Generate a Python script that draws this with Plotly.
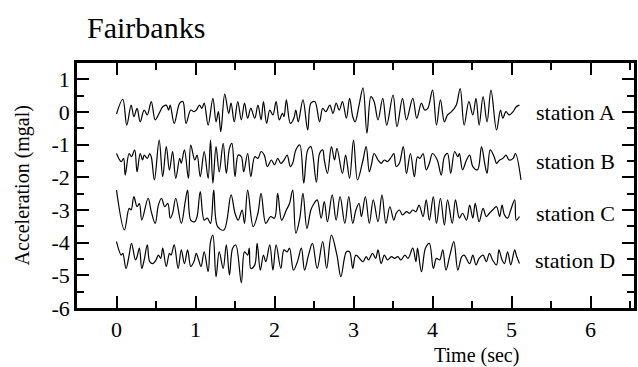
import plotly.graph_objects as go

# ---------------- data ----------------
stations = ["station A", "station B", "station C", "station D"]
label_levels = [0.0, -1.5, -3.1, -4.55]

t_A = [0.00,0.08,0.13,0.185,0.22,0.26,0.30,0.35,0.39,0.44,0.49,0.54,0.585,0.63,0.66,0.68,0.73,0.80,0.84,0.88,0.94,0.98,1.01,1.05,1.08,1.11,1.16,1.22,1.26,1.29,1.32,1.37,1.42,1.45,1.49,1.535,1.58,1.62,1.66,1.70,1.75,1.79,1.83,1.86,1.90,1.94,1.98,2.02,2.06,2.10,2.12,2.15,2.20,2.245,2.27,2.30,2.36,2.42,2.46,2.51,2.57,2.61,2.65,2.70,2.74,2.78,2.82,2.86,2.91,2.95,2.99,3.02,3.07,3.12,3.17,3.22,3.26,3.31,3.37,3.42,3.50,3.55,3.62,3.67,3.75,3.80,3.86,3.90,3.94,4.00,4.05,4.10,4.15,4.19,4.24,4.30,4.35,4.40,4.46,4.51,4.55,4.59,4.64,4.69,4.74,4.81,4.86,4.89,4.93,4.97,5.02,5.06,5.10]
a_A = [-0.06,0.39,-0.40,0.21,-0.14,0.11,-0.30,0.06,-0.09,0.32,-0.24,-0.04,0.16,0.21,0.06,0.21,-0.35,0.27,0.32,-0.35,0.06,0.01,0.06,0.21,0.11,0.27,-0.40,0.42,-0.30,0.01,-0.60,0.55,-0.04,0.27,-0.30,0.32,-0.24,0.27,-0.19,0.11,-0.19,0.21,-0.24,0.32,-0.35,0.06,-0.09,0.32,-0.24,-0.04,-0.14,0.37,-0.35,-0.19,0.06,-0.30,0.37,-0.55,0.27,0.32,-0.30,0.11,0.01,0.21,-0.04,0.27,0.06,0.32,-0.19,0.42,-0.14,-0.30,0.21,0.74,-0.65,0.47,0.32,-0.24,0.42,-0.40,0.52,-0.45,0.42,-0.24,0.42,-0.19,0.27,0.06,0.11,0.67,-0.40,0.37,-0.30,-0.09,0.01,0.21,0.72,-0.40,0.32,-0.09,0.42,-0.40,0.47,-0.30,0.67,-0.55,0.06,-0.19,0.01,-0.09,0.01,0.16,0.21]

t_B = [0.00,0.06,0.09,0.11,0.16,0.19,0.23,0.26,0.30,0.33,0.35,0.39,0.42,0.44,0.48,0.54,0.585,0.63,0.67,0.71,0.75,0.80,0.82,0.86,0.91,0.94,0.99,1.02,1.06,1.11,1.16,1.19,1.22,1.26,1.30,1.35,1.39,1.43,1.46,1.50,1.54,1.58,1.61,1.66,1.70,1.75,1.79,1.83,1.87,1.91,1.96,2.00,2.04,2.08,2.12,2.16,2.20,2.23,2.27,2.32,2.37,2.42,2.46,2.53,2.57,2.61,2.63,2.67,2.72,2.76,2.79,2.86,2.90,2.95,3.00,3.05,3.12,3.16,3.20,3.23,3.26,3.31,3.35,3.39,3.43,3.48,3.51,3.54,3.58,3.63,3.67,3.72,3.77,3.81,3.84,3.88,3.92,3.96,4.00,4.06,4.11,4.15,4.19,4.23,4.28,4.32,4.34,4.38,4.43,4.47,4.51,4.57,4.62,4.66,4.69,4.73,4.78,4.81,4.85,4.89,4.93,4.97,5.02,5.05,5.12]
a_B = [-1.27,-1.52,-1.42,-1.93,-1.27,-1.37,-1.16,-1.83,-1.27,-1.47,-1.32,-1.42,-1.27,-1.37,-2.08,-0.86,-1.98,-1.06,-1.78,-1.21,-2.03,-1.42,-1.57,-1.16,-2.03,-1.01,-1.47,-1.32,-1.98,-1.21,-2.03,-0.86,-2.18,-1.06,-1.83,-0.96,-1.88,-1.11,-0.96,-1.98,-1.32,-1.37,-1.83,-1.27,-1.98,-1.37,-1.42,-1.21,-1.32,-1.67,-1.47,-1.62,-1.42,-1.57,-1.47,-1.32,-1.67,-1.57,-1.16,-1.01,-2.18,-1.16,-1.06,-2.15,-1.27,-1.16,-1.47,-1.88,-1.06,-1.47,-1.11,-1.88,-1.32,-2.03,-0.86,-2.08,-1.47,-1.06,-1.83,-1.57,-1.27,-1.47,-1.57,-1.47,-1.52,-1.37,-1.27,-1.67,-1.57,-1.06,-1.88,-1.27,-1.98,-1.37,-1.42,-1.27,-1.77,-1.57,-1.27,-1.47,-1.93,-1.37,-1.27,-1.88,-1.21,-1.37,-1.27,-1.77,-1.47,-1.32,-1.67,-1.77,-1.06,-1.57,-1.88,-1.16,-1.37,-1.57,-1.47,-1.42,-1.32,-1.47,-1.42,-1.27,-2.08]

t_C = [0.00,0.10,0.16,0.185,0.22,0.26,0.29,0.32,0.40,0.44,0.49,0.53,0.57,0.61,0.65,0.68,0.71,0.75,0.82,0.87,0.90,0.94,0.99,1.02,1.06,1.11,1.15,1.19,1.23,1.28,1.36,1.45,1.50,1.54,1.59,1.62,1.66,1.73,1.79,1.83,1.89,1.95,2.00,2.04,2.09,2.15,2.19,2.23,2.27,2.32,2.36,2.41,2.46,2.50,2.54,2.59,2.63,2.67,2.73,2.78,2.83,2.89,2.94,2.99,3.03,3.07,3.10,3.15,3.20,3.25,3.31,3.36,3.41,3.46,3.51,3.54,3.58,3.62,3.67,3.71,3.75,3.79,3.83,3.88,3.92,3.96,4.01,4.05,4.10,4.15,4.19,4.25,4.29,4.34,4.38,4.43,4.47,4.51,4.54,4.59,4.64,4.68,4.72,4.76,4.81,4.85,4.88,4.91,4.95,4.99,5.04,5.06,5.10]
a_C = [-2.39,-3.61,-2.95,-3.00,-2.59,-2.90,-2.80,-3.31,-2.64,-3.05,-3.41,-2.85,-2.64,-2.90,-2.80,-3.25,-3.10,-2.64,-3.41,-2.74,-2.39,-3.31,-3.36,-3.20,-2.44,-3.31,-3.25,-3.41,-2.39,-3.51,-3.61,-2.54,-3.10,-3.31,-3.00,-3.41,-2.39,-3.51,-3.10,-2.49,-3.41,-3.20,-3.25,-2.49,-3.31,-3.00,-2.80,-2.39,-3.71,-3.25,-2.49,-3.56,-3.00,-2.80,-2.69,-3.25,-2.74,-3.36,-2.54,-3.31,-2.59,-3.41,-2.59,-3.41,-3.00,-2.80,-3.20,-2.59,-3.41,-2.69,-3.36,-2.54,-3.41,-2.90,-3.31,-3.10,-3.00,-3.15,-3.05,-3.10,-3.00,-3.05,-2.85,-3.20,-2.69,-3.31,-2.59,-3.41,-2.64,-3.46,-2.69,-3.41,-2.69,-3.25,-3.10,-3.31,-2.85,-3.25,-2.80,-3.36,-2.95,-3.20,-3.10,-3.00,-2.90,-3.20,-2.85,-3.15,-3.25,-3.00,-2.69,-3.31,-3.20]

t_D = [0.00,0.06,0.08,0.12,0.16,0.19,0.24,0.26,0.29,0.32,0.35,0.39,0.42,0.46,0.50,0.53,0.56,0.585,0.63,0.67,0.69,0.73,0.78,0.82,0.86,0.90,0.94,0.98,1.01,1.04,1.07,1.11,1.16,1.19,1.22,1.26,1.30,1.35,1.39,1.43,1.47,1.51,1.58,1.62,1.66,1.68,1.70,1.75,1.78,1.82,1.86,1.89,1.94,1.98,2.02,2.08,2.12,2.16,2.19,2.24,2.29,2.34,2.38,2.43,2.48,2.54,2.61,2.66,2.72,2.79,2.84,2.91,2.95,2.99,3.03,3.12,3.16,3.19,3.24,3.28,3.31,3.35,3.39,3.43,3.48,3.52,3.56,3.60,3.65,3.69,3.75,3.79,3.81,3.86,3.91,3.96,4.01,4.05,4.09,4.13,4.17,4.22,4.27,4.32,4.37,4.40,4.47,4.51,4.55,4.59,4.64,4.68,4.72,4.76,4.81,4.84,4.88,4.91,4.95,4.99,5.04,5.06,5.10]
a_D = [-3.97,-4.38,-4.33,-4.79,-4.38,-4.02,-4.53,-4.43,-4.17,-4.79,-4.53,-4.07,-4.58,-4.64,-4.53,-4.38,-4.48,-4.17,-4.73,-4.33,-4.38,-4.07,-4.79,-4.22,-4.64,-4.22,-4.73,-4.58,-4.33,-4.53,-4.73,-4.28,-4.89,-3.97,-3.77,-5.04,-4.28,-4.79,-4.07,-4.99,-4.17,-4.07,-5.23,-4.28,-4.38,-4.17,-4.79,-4.68,-4.02,-4.84,-4.38,-4.58,-4.07,-4.84,-4.07,-4.79,-4.22,-4.28,-4.17,-4.84,-4.58,-4.17,-4.84,-4.38,-4.02,-4.79,-3.97,-4.79,-3.77,-4.38,-5.04,-4.28,-4.28,-4.79,-4.38,-4.58,-4.43,-4.53,-4.33,-4.48,-4.22,-4.64,-4.38,-4.53,-4.43,-4.48,-4.43,-4.53,-4.38,-4.48,-4.17,-4.58,-4.17,-4.89,-4.17,-4.02,-4.79,-4.48,-4.53,-4.22,-4.84,-4.38,-3.97,-4.84,-4.43,-4.38,-4.64,-4.38,-4.68,-4.48,-4.38,-4.58,-4.33,-4.53,-4.68,-4.22,-4.53,-4.64,-4.28,-4.68,-4.22,-4.38,-4.64]

x_major = [0, 1, 2, 3, 4, 5, 6]
y_major = [1, 0, -1, -2, -3, -4, -5, -6]

# ---------------- figure ----------------
FONT = "Times New Roman, Liberation Serif, serif"
W, H = 638, 367
ML, MR, MT, MB = 77, 4, 63, 59
PW, PH = W - ML - MR, H - MT - MB
XR = [-0.5, 6.55]
YR = [-6, 1.5]

fig = go.Figure()
for t, a in [(t_A, a_A), (t_B, a_B), (t_C, a_C), (t_D, a_D)]:
    fig.add_trace(go.Scatter(x=t, y=a, mode="lines",
                             line=dict(color="black", width=1.2, shape="spline", smoothing=1.0),
                             showlegend=False, hoverinfo="skip"))

for name, lvl in zip(stations, label_levels):
    fig.add_annotation(x=6.34, y=lvl, xref="x", yref="y", text=name, showarrow=False,
                       xanchor="right", yanchor="middle",
                       font=dict(family=FONT, size=22, color="black"))

axis_common = dict(showline=True, linecolor="black", linewidth=2.5, mirror="allticks",
                   ticks="inside", ticklen=12, tickwidth=2, tickcolor="black",
                   showgrid=False, zeroline=False,
                   tickfont=dict(family=FONT, size=22, color="black"),
                   minor=dict(ticks="inside", ticklen=7, tickwidth=2, tickcolor="black",
                              dtick=0.5, showgrid=False))

fig.update_xaxes(range=XR, tickvals=x_major, ticktext=[str(v) for v in x_major], **axis_common)
fig.update_yaxes(range=YR, tickvals=y_major, ticktext=[str(v) for v in y_major], **axis_common)

fig.add_annotation(x=(476 - ML) / PW, y=-(355 - (H - MB)) / PH,
                   xref="paper", yref="paper", text="Time (sec)", showarrow=False,
                   xanchor="center", yanchor="middle",
                   font=dict(family=FONT, size=20, color="black"))
fig.add_annotation(x=-(ML - 22) / PW, y=0.5, xref="paper", yref="paper",
                   text="Acceleration (mgal)", textangle=-90, showarrow=False,
                   xanchor="center", yanchor="middle",
                   font=dict(family=FONT, size=20, color="black"))
fig.add_annotation(x=(85 - ML) / PW, y=((H - MB) - 27) / PH, xref="paper", yref="paper",
                   text="Fairbanks", showarrow=False, xanchor="left", yanchor="middle",
                   font=dict(family=FONT, size=30, color="black"))

fig.update_layout(width=W, height=H, margin=dict(l=ML, r=MR, t=MT, b=MB),
                  paper_bgcolor="white", plot_bgcolor="white",
                  font=dict(family=FONT, color="black"), template="none")

fig.write_html("out.html")
